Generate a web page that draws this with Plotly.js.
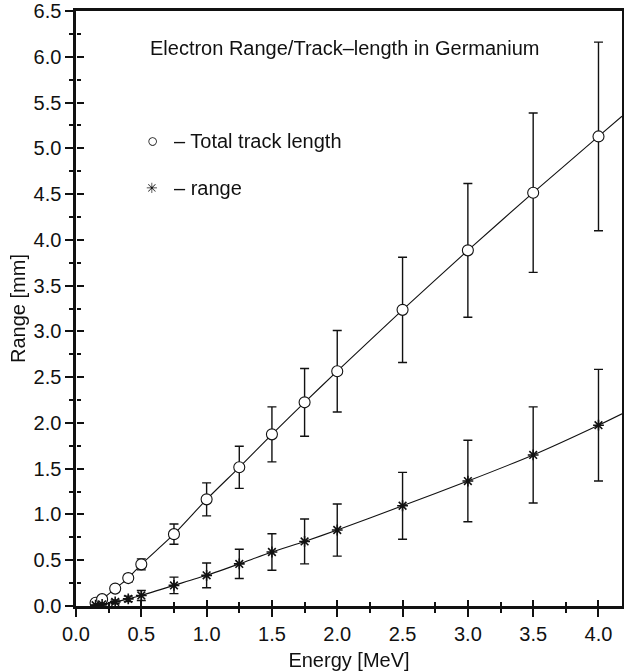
<!DOCTYPE html>
<html>
<head>
<meta charset="utf-8">
<script src="https://cdn.plot.ly/plotly-3.0.1.min.js"></script>
<style>html,body{margin:0;padding:0;background:#fff;}#chart{width:624px;height:671px;}</style>
</head>
<body>
<div id="chart"></div>
<script>
// Data
const energy = [0.15, 0.2, 0.3, 0.4, 0.5, 0.75, 1.0, 1.25, 1.5, 1.75, 2.0, 2.5, 3.0, 3.5, 4.0];
const trackLength = [0.035, 0.075, 0.19, 0.305, 0.455, 0.785, 1.165, 1.515, 1.875, 2.225, 2.565, 3.235, 3.885, 4.515, 5.13];
const trackErr = [0.005, 0.01, 0.025, 0.04, 0.06, 0.11, 0.18, 0.23, 0.30, 0.37, 0.445, 0.575, 0.73, 0.87, 1.03];
const rangeVals = [0.008, 0.018, 0.045, 0.078, 0.115, 0.225, 0.335, 0.46, 0.59, 0.705, 0.83, 1.095, 1.365, 1.65, 1.975];
const rangeErr = [0.003, 0.008, 0.02, 0.03, 0.055, 0.09, 0.135, 0.16, 0.20, 0.245, 0.285, 0.365, 0.445, 0.525, 0.61];
// fitted curves continue to the right frame edge
const edgeEnergy = 4.18;
const trackEdge = 5.35;
const rangeEdge = 2.10;

const xTickVals = [0, 0.5, 1, 1.5, 2, 2.5, 3, 3.5, 4];
const xTickText = ["0.0", "0.5", "1.0", "1.5", "2.0", "2.5", "3.0", "3.5", "4.0"];
const xMinorVals = [0.25, 0.75, 1.25, 1.75, 2.25, 2.75, 3.25, 3.75];
const yTickVals = [0, 0.5, 1, 1.5, 2, 2.5, 3, 3.5, 4, 4.5, 5, 5.5, 6, 6.5];
const yTickText = ["0.0", "0.5", "1.0", "1.5", "2.0", "2.5", "3.0", "3.5", "4.0", "4.5", "5.0", "5.5", "6.0", "6.5"];
const yMinorVals = [0.25, 0.75, 1.25, 1.75, 2.25, 2.75, 3.25, 3.75, 4.25, 4.75, 5.25, 5.75, 6.25];

const titleText = "Electron Range/Track–length in Germanium";
const legendTrack = "– Total track length";
const legendRange = "– range";
const xTitle = "Energy [MeV]";
const yTitle = "Range [mm]";

const FONT = "Liberation Sans, Arial, Helvetica, sans-serif";
const FS = 20;
const INK = "#111";

const traces = [
  {x: energy.concat([edgeEnergy]), y: trackLength.concat([trackEdge]), mode: "lines",
   line: {color: INK, width: 1.1, shape: "spline", smoothing: 0.6}, hoverinfo: "skip", showlegend: false},
  {x: energy.concat([edgeEnergy]), y: rangeVals.concat([rangeEdge]), mode: "lines",
   line: {color: INK, width: 1.1, shape: "spline", smoothing: 0.6}, hoverinfo: "skip", showlegend: false},
  {x: energy, y: trackLength, mode: "markers", showlegend: false,
   marker: {symbol: "circle", size: 11, color: "#fff", line: {color: INK, width: 1.1}},
   error_y: {type: "data", array: trackErr, symmetric: true, color: INK, thickness: 1.4, width: 4.5}},
  {x: energy, y: rangeVals, mode: "markers", showlegend: false,
   marker: {symbol: "asterisk-open", size: 9, color: INK, line: {color: INK, width: 1.6}},
   error_y: {type: "data", array: rangeErr, symmetric: true, color: INK, thickness: 1.4, width: 4.5}},
  // invisible copies on the overlaid tick-only axes so that they get drawn
  {x: energy, y: trackLength, xaxis: "x", yaxis: "y2", mode: "markers", opacity: 0, showlegend: false, hoverinfo: "skip"},
  {x: energy, y: trackLength, xaxis: "x2", yaxis: "y", mode: "markers", opacity: 0, showlegend: false, hoverinfo: "skip"},
  {x: energy, y: trackLength, xaxis: "x", yaxis: "y3", mode: "markers", opacity: 0, showlegend: false, hoverinfo: "skip"},
  {x: energy, y: trackLength, xaxis: "x3", yaxis: "y", mode: "markers", opacity: 0, showlegend: false, hoverinfo: "skip"}
];

const minorOut = {ticks: "outside", ticklen: 4, tickwidth: 2, tickcolor: INK, dtick: 0.25, tick0: 0, showgrid: false};

const axBase = {
  zeroline: false, showgrid: false, ticks: "outside", ticklen: 8, tickwidth: 2, tickcolor: INK,
  tickfont: {family: FONT, size: FS, color: INK},
  showline: true, linecolor: INK, linewidth: 2.6, mirror: true, minor: minorOut
};

function tickOnly(letter, base, range, vals, len) {
  return {overlaying: base, anchor: "free", position: 0, side: letter === "x" ? "bottom" : "left",
    range: range, showline: false, showgrid: false, zeroline: false, showticklabels: false,
    ticks: "inside", ticklen: len, tickwidth: 2, tickcolor: INK, tickmode: "array", tickvals: vals};
}

const layout = {
  width: 624, height: 671,
  margin: {l: 76, r: 2, t: 11, b: 65},
  paper_bgcolor: "#fff", plot_bgcolor: "#fff",
  font: {family: FONT, size: FS, color: INK},
  showlegend: false,
  xaxis: Object.assign({}, axBase, {
    range: [0, edgeEnergy], tickmode: "array", tickvals: xTickVals, ticktext: xTickText,
    title: {text: xTitle, font: {family: FONT, size: FS, color: INK}, standoff: 10}
  }),
  yaxis: Object.assign({}, axBase, {
    range: [0, 6.5], tickmode: "array", tickvals: yTickVals, ticktext: yTickText,
    title: {text: yTitle, font: {family: FONT, size: FS, color: INK}, standoff: 3}
  }),
  // inner halves of the ticks that cross the axis lines
  yaxis2: tickOnly("y", "y", [0, 6.5], yTickVals, 7),
  xaxis2: tickOnly("x", "x", [0, edgeEnergy], xTickVals, 6),
  yaxis3: tickOnly("y", "y", [0, 6.5], yMinorVals, 4),
  xaxis3: tickOnly("x", "x", [0, edgeEnergy], xMinorVals, 4),
  annotations: [
    {xref: "paper", yref: "paper", x: 0.491, y: 0.938, xanchor: "center", yanchor: "middle",
     text: titleText, showarrow: false, font: {family: FONT, size: FS, color: INK}},
    {xref: "paper", yref: "paper", x: 0.140, y: 0.782, xanchor: "center", yanchor: "middle",
     text: "○", showarrow: false, font: {family: FONT, size: 19, color: INK}},
    {xref: "paper", yref: "paper", x: 0.176, y: 0.782, xanchor: "left", yanchor: "middle",
     text: legendTrack, showarrow: false, font: {family: FONT, size: FS, color: INK}},
    {xref: "paper", yref: "paper", x: 0.140, y: 0.703, xanchor: "center", yanchor: "middle",
     text: "✳", showarrow: false, font: {family: "DejaVu Sans", size: 14, color: INK}},
    {xref: "paper", yref: "paper", x: 0.176, y: 0.703, xanchor: "left", yanchor: "middle",
     text: legendRange, showarrow: false, font: {family: FONT, size: FS, color: INK}}
  ]
};

Plotly.newPlot("chart", traces, layout, {staticPlot: true, displayModeBar: false});
</script>
</body>
</html>
